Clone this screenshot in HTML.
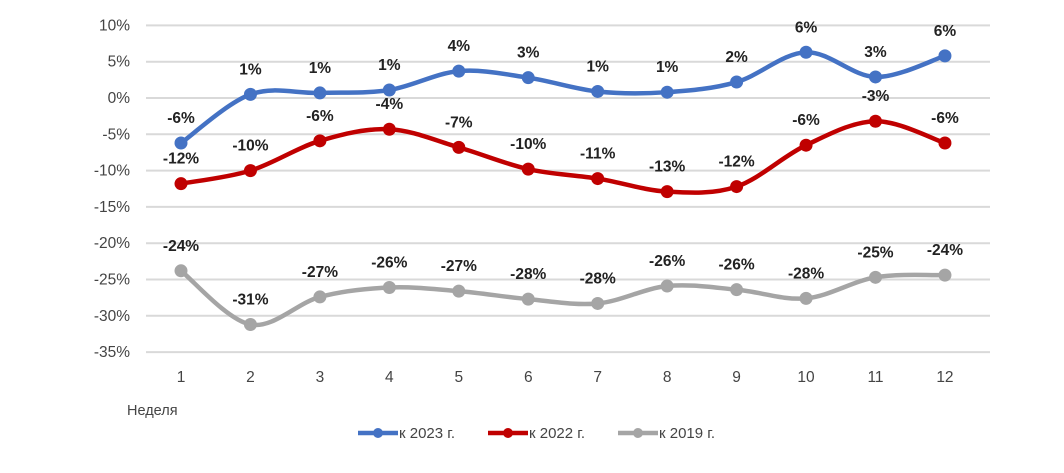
<!DOCTYPE html>
<html><head><meta charset="utf-8"><style>
body{margin:0;background:#fff;}
svg text{font-family:"Liberation Sans",sans-serif;}
</style></head><body>
<svg id="s" width="1064" height="468" xmlns="http://www.w3.org/2000/svg"></svg>
<script>
const s=document.getElementById('s');
let h='';
const y0=98,st=36.3/5;
const Y=v=>y0-v*st, X=i=>181+i*69.45;
for(let v=10;v>=-35;v-=5){
  const y=Y(v);
  h+=`<line x1="146" x2="990" y1="${y}" y2="${y}" stroke="#d9d9d9" stroke-width="2"/>`;
  h+=`<text x="130" y="${y+5}" text-anchor="end" font-size="15.5" fill="#444">${v}%</text>`;
}
for(let i=0;i<12;i++)h+=`<text x="${X(i)}" y="382" text-anchor="middle" font-size="15.5" fill="#444">${i+1}</text>`;
h+=`<text x="127" y="415" font-size="14.5" fill="#444">Неделя</text>`;
const S=[
 {c:'#4472c4',r:6.5,d:[-6.2,0.5,0.7,1.1,3.7,2.8,0.9,0.8,2.2,6.3,2.9,5.8],l:['-6%','1%','1%','1%','4%','3%','1%','1%','2%','6%','3%','6%']},
 {c:'#c00000',r:6.5,d:[-11.8,-10,-5.9,-4.3,-6.8,-9.8,-11.1,-12.9,-12.2,-6.5,-3.2,-6.2],l:['-12%','-10%','-6%','-4%','-7%','-10%','-11%','-13%','-12%','-6%','-3%','-6%']},
 {c:'#a5a5a5',r:6.5,d:[-23.8,-31.2,-27.4,-26.1,-26.6,-27.7,-28.3,-25.9,-26.4,-27.6,-24.7,-24.4],l:['-24%','-31%','-27%','-26%','-27%','-28%','-28%','-26%','-26%','-28%','-25%','-24%']}
];
S.forEach(o=>{
  const p=o.d.map((v,i)=>[X(i),Y(v)]);
  let d=`M${p[0][0]},${p[0][1]}`;
  for(let i=0;i<p.length-1;i++){
    const a=p[i-1]||p[i],b=p[i],c=p[i+1],e=p[i+2]||c,t=1/6;
    d+=` C${b[0]+(c[0]-a[0])*t},${b[1]+(c[1]-a[1])*t} ${c[0]-(e[0]-b[0])*t},${c[1]-(e[1]-b[1])*t} ${c[0]},${c[1]}`;
  }
  h+=`<path d="${d}" fill="none" stroke="${o.c}" stroke-width="4.5" stroke-linecap="round"/>`;
  p.forEach((q,i)=>{
    h+=`<circle cx="${q[0]}" cy="${q[1]}" r="${o.r}" fill="${o.c}"/>`;
    h+=`<text x="${q[0]}" y="${q[1]-20}" text-anchor="middle" font-size="15.5" font-weight="bold" fill="#222">${o.l[i]}</text>`;
  });
});
[[358,'#4472c4','к 2023 г.'],[488,'#c00000','к 2022 г.'],[618,'#a5a5a5','к 2019 г.']].forEach(([x,c,t])=>{
  h+=`<line x1="${x}" x2="${x+40}" y1="433" y2="433" stroke="${c}" stroke-width="4.5"/><circle cx="${x+20}" cy="433" r="5" fill="${c}"/>`;
  h+=`<text x="${x+41}" y="438" font-size="15" fill="#444">${t}</text>`;
});
s.innerHTML=h;
</script>
</body></html>
